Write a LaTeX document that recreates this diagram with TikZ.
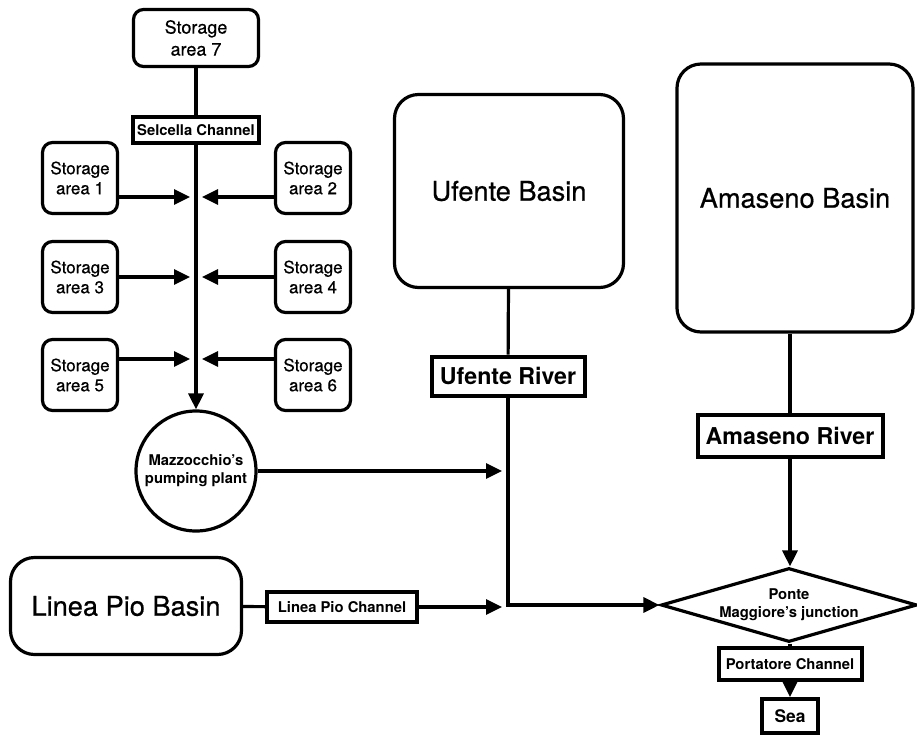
\documentclass[tikz,border=0pt]{standalone}
\usepackage{fontspec}
\setmainfont{TeX Gyre Heros}[UprightFeatures={FakeBold=0.6}]
\usetikzlibrary{positioning}
\usetikzlibrary{arrows.meta}
\usetikzlibrary{shapes.geometric}
\tikzset{line/.style = {line width=1.6pt}}
\tikzset{arr/.style = {line width=1.6pt, -{Triangle[length=8pt,width=7.5pt]}}}
\tikzset{store/.style = {draw, line width=1.6pt, rounded corners=5pt, align=center,
                         font=\fontsize{8.5}{10}\selectfont, inner sep=0,
                         minimum width=37.5pt, minimum height=35.5pt}}
\tikzset{basin/.style = {draw, line width=1.6pt, rounded corners=12pt, inner sep=0,
                         font=\fontsize{13.6}{16}\selectfont}}
\tikzset{chan/.style = {draw, line width=2pt, inner sep=0,
                        font=\bfseries\fontsize{7.4}{9}\selectfont}}
\tikzset{river/.style = {draw, line width=2pt, inner sep=0,
                         font=\bfseries\fontsize{11.6}{14}\selectfont}}

\begin{document}
\begin{tikzpicture}[x=0.5pt, y=-0.5pt]
      \useasboundingbox (0,0) rectangle (917,735);

      % Selcella side
      \node[store, font=\fontsize{9}{11}\selectfont, minimum width=62.5pt, minimum height=28.5pt]
            (s7) at (196,38) {Storage\\area 7};
      \node[chan, minimum width=63pt, minimum height=13pt] (selc) at (196,130) {Selcella Channel};
      \node[store] (s1) at (80,178) {Storage\\area 1};
      \node[store] (s2) at (313,178) {Storage\\area 2};
      \node[store] (s3) at (80,277) {Storage\\area 3};
      \node[store] (s4) at (313,277) {Storage\\area 4};
      \node[store] (s5) at (80,375) {Storage\\area 5};
      \node[store] (s6) at (313,375) {Storage\\area 6};
      \node[draw, circle, line width=1.6pt, minimum size=60pt, inner sep=0, align=center,
            font=\bfseries\fontsize{7.4}{9}\selectfont] (mz) at (196,471) {Mazzocchio’s\\pumping plant};

      \coordinate (j1l) at (190,197);
      \coordinate (j1r) at (202,197);
      \coordinate (j2l) at (190,277);
      \coordinate (j2r) at (202,277);
      \coordinate (j3l) at (190,359);
      \coordinate (j3r) at (202,359);

      \draw[line] (s7) -- (selc);
      \draw[arr] (selc) -- (mz);
      \draw[arr] (s1.east |- j1l) -- (j1l);
      \draw[arr] (s2.west |- j1r) -- (j1r);
      \draw[arr] (s3.east |- j2l) -- (j2l);
      \draw[arr] (s4.west |- j2r) -- (j2r);
      \draw[arr] (s5.east |- j3l) -- (j3l);
      \draw[arr] (s6.west |- j3r) -- (j3r);

      % basins and rivers
      \node[basin, minimum width=114.5pt, minimum height=96.5pt] (ub) at (509,191) {Ufente Basin};
      \node[river, minimum width=76.5pt, minimum height=19.5pt] (ur) at (508,376) {Ufente River};
      \node[basin, minimum width=118pt, minimum height=134pt] (ab) at (795,198) {Amaseno Basin};
      \node[river, minimum width=92.5pt, minimum height=21pt] (ar) at (790,436) {Amaseno River};
      \node[basin, minimum width=115.5pt, minimum height=48.5pt] (lb) at (126,606) {Linea Pio Basin};
      \node[chan, minimum width=75pt, minimum height=15pt] (lc) at (342,607) {Linea Pio Channel};

      \node[draw, diamond, aspect=3.5, line width=1.6pt, inner sep=0, align=center,
            minimum width=128pt, minimum height=37pt,
            font=\bfseries\fontsize{7.4}{9}\selectfont] (pm) at (789,605) {Ponte\\Maggiore’s junction};
      \node[chan, minimum width=71.5pt, minimum height=16pt] (pc) at (790,664) {Portatore Channel};
      \node[chan, font=\bfseries\fontsize{8.7}{10}\selectfont, minimum width=28pt, minimum height=17pt]
            (sea) at (790,716) {Sea};

      \coordinate (uf) at (502,471);
      \coordinate (lf) at (502,607);

      \draw[arr] (mz) -- (uf);
      \draw[line] (lb) -- (lc);
      \draw[arr] (lc) -- (lf);
      \draw[line] (ub) -- (ur);
      \draw[arr] (ur.south) |- (pm.west);
      \draw[line] (ab.south -| ar.north) -- (ar.north);
      \draw[arr] (ar.south) -- (ar.south |- pm.north);
      \draw[line] (pm.south -| pc.north) -- (pc);
      \draw[arr] (pc) -- (sea);
\end{tikzpicture}
\end{document}
